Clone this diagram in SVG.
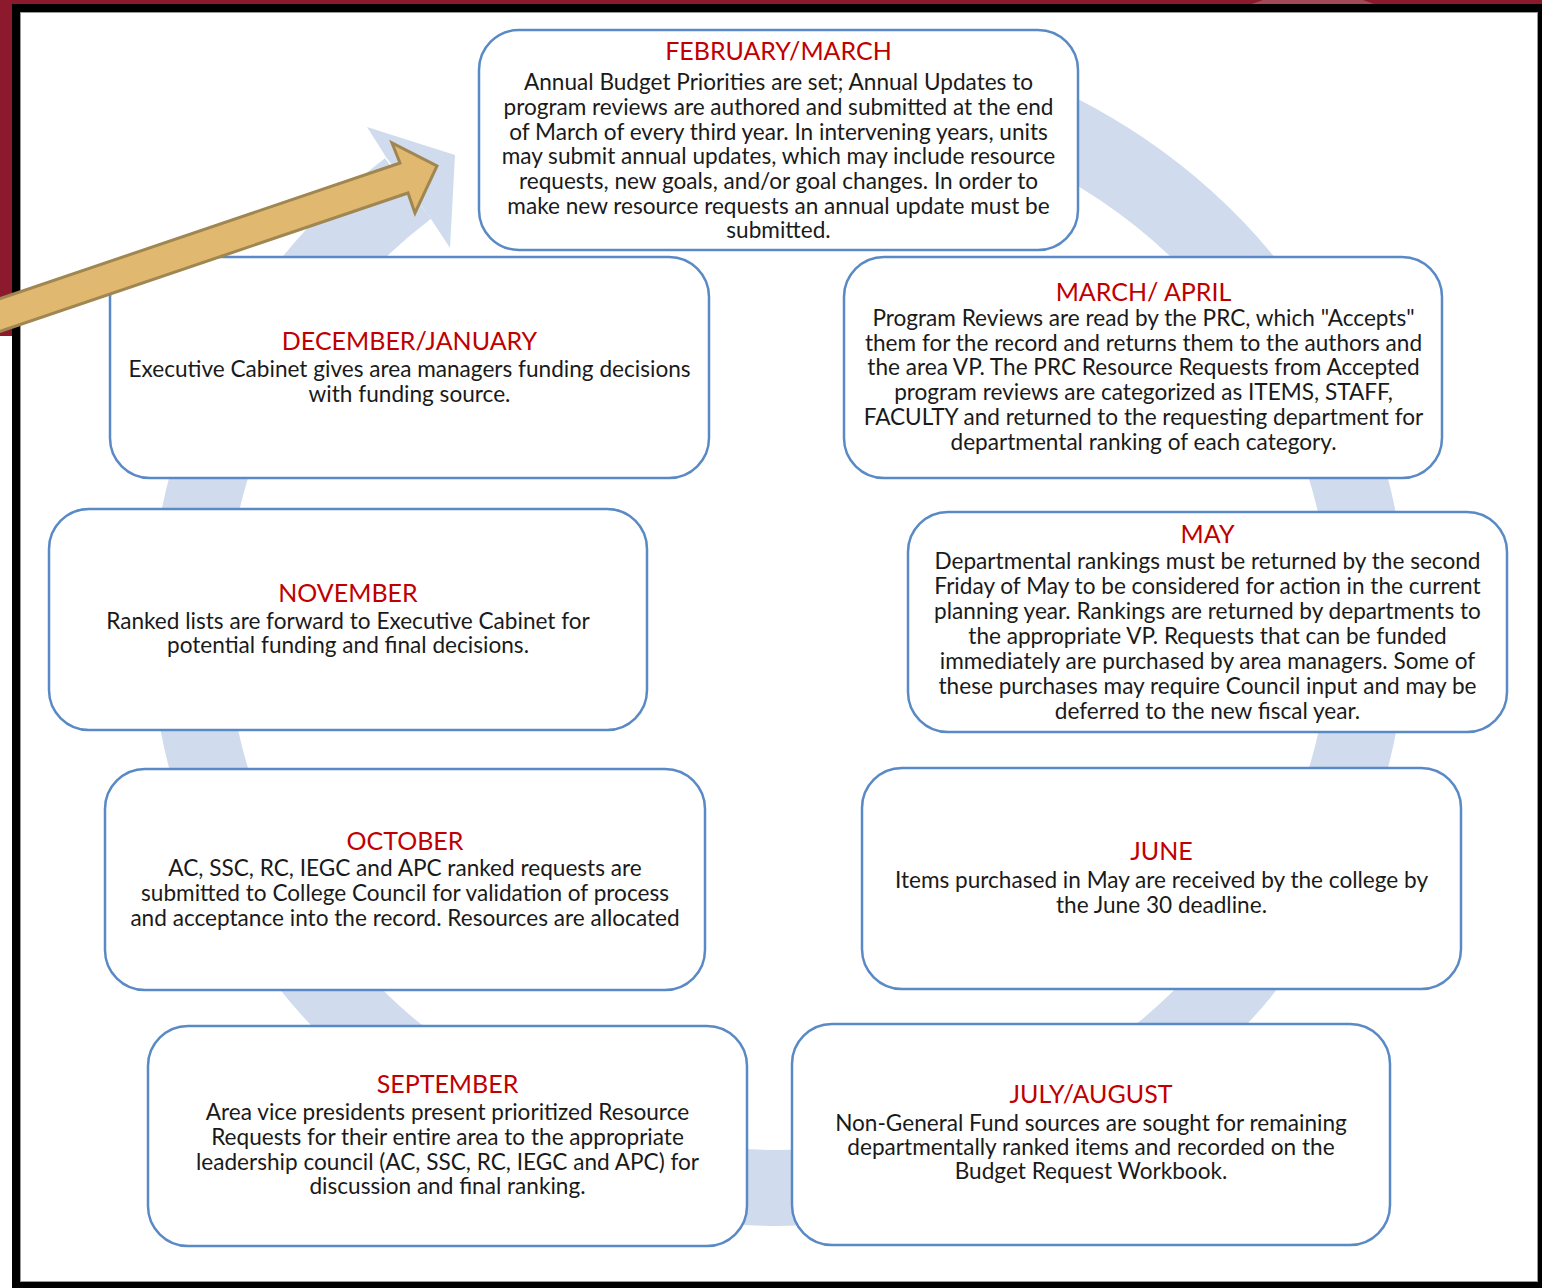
<svg xmlns="http://www.w3.org/2000/svg" width="1542" height="1288" viewBox="0 0 1542 1288">
<style>
.box{fill:#fff;stroke:#5A8AC6;stroke-width:2.5}
.t{font-family:Lato,"Open Sans","Liberation Sans",sans-serif;font-size:22.6px;fill:#1a1a1a;text-anchor:middle}
.h{font-size:25px;fill:#C00000}
</style>
<rect x="0" y="0" width="1542" height="1288" fill="#fff"/>
<g id="frame">
<rect x="0" y="0" width="1542" height="5" fill="#8C1A2C"/>
<rect x="0" y="0" width="12" height="336" fill="#8C1A2C"/>
<polygon points="1263,0 1363,0 1374,4 1252,4" fill="#A24A59"/>
<rect x="12" y="4" width="1530" height="8" fill="#000"/>
<rect x="12" y="4" width="8" height="1284" fill="#000"/>
<rect x="12" y="1282" width="1530" height="6" fill="#000"/>
<rect x="1538" y="4" width="4" height="1284" fill="#000"/>
<rect x="20.5" y="12.5" width="1517" height="1269" fill="none" stroke="#999" stroke-width="1"/>
</g>
<g id="cycle-arrow">
<path d="M960.8,92.3 A590,557 0 0 1 1368.5,622 A590,566 0 0 1 778.5,1188 A590,566 0 0 1 188.5,622 A590,557 0 0 1 408,188.6" fill="none" stroke="#D0DCEE" stroke-width="76"/>
<polygon points="386,157 367,127 455,155 450,248 431,219" fill="#D0DCEE"/>
</g>
<g id="feb-march">
<rect class="box" x="479" y="30" width="599" height="220" rx="40"/>
<text class="t h" x="778.5" y="60">FEBRUARY/MARCH</text>
<text class="t" x="778.5" y="90">Annual Budget Priorities are set; Annual Updates to</text>
<text class="t" x="778.5" y="115">program reviews are authored and submitted at the end</text>
<text class="t" x="778.5" y="140">of March of every third year. In intervening years, units</text>
<text class="t" x="778.5" y="164">may submit annual updates, which may include resource</text>
<text class="t" x="778.5" y="189">requests, new goals, and/or goal changes. In order to</text>
<text class="t" x="778.5" y="214">make new resource requests an annual update must be</text>
<text class="t" x="778.5" y="238">submitted.</text>
</g>
<g id="dec-jan">
<rect class="box" x="110" y="257" width="599" height="221" rx="40"/>
<text class="t h" x="409.5" y="349.5">DECEMBER/JANUARY</text>
<text class="t" x="409.5" y="377">Executive Cabinet gives area managers funding decisions</text>
<text class="t" x="409.5" y="402">with funding source.</text>
</g>
<g id="march-april">
<rect class="box" x="844" y="257" width="598" height="221" rx="40"/>
<text class="t h" x="1143.5" y="301">MARCH/ APRIL</text>
<text class="t" x="1143.5" y="326">Program Reviews are read by the PRC, which &quot;Accepts&quot;</text>
<text class="t" x="1143.5" y="351">them for the record and returns them to the authors and</text>
<text class="t" x="1143.5" y="375">the area VP. The PRC Resource Requests from Accepted</text>
<text class="t" x="1143.5" y="400">program reviews are categorized as ITEMS, STAFF,</text>
<text class="t" x="1143.5" y="425">FACULTY and returned to the requesting department for</text>
<text class="t" x="1143.5" y="450">departmental ranking of each category.</text>
</g>
<g id="november">
<rect class="box" x="49" y="509" width="598" height="221" rx="40"/>
<text class="t h" x="348" y="602">NOVEMBER</text>
<text class="t" x="348" y="628.5">Ranked lists are forward to Executive Cabinet for</text>
<text class="t" x="348" y="653">potential funding and final decisions.</text>
</g>
<g id="may">
<rect class="box" x="908" y="512" width="599" height="220" rx="40"/>
<text class="t h" x="1207.5" y="542.5">MAY</text>
<text class="t" x="1207.5" y="568.5">Departmental rankings must be returned by the second</text>
<text class="t" x="1207.5" y="593.5">Friday of May to be considered for action in the current</text>
<text class="t" x="1207.5" y="618.5">planning year. Rankings are returned by departments to</text>
<text class="t" x="1207.5" y="643.5">the appropriate VP. Requests that can be funded</text>
<text class="t" x="1207.5" y="668.5">immediately are purchased by area managers. Some of</text>
<text class="t" x="1207.5" y="693.5">these purchases may require Council input and may be</text>
<text class="t" x="1207.5" y="719">deferred to the new fiscal year.</text>
</g>
<g id="october">
<rect class="box" x="105" y="769" width="600" height="221" rx="40"/>
<text class="t h" x="405" y="849.5">OCTOBER</text>
<text class="t" x="405" y="875.5">AC, SSC, RC, IEGC and APC ranked requests are</text>
<text class="t" x="405" y="901">submitted to College Council for validation of process</text>
<text class="t" x="405" y="926">and acceptance into the record. Resources are allocated</text>
</g>
<g id="june">
<rect class="box" x="862" y="768" width="599" height="221" rx="40"/>
<text class="t h" x="1161.5" y="860">JUNE</text>
<text class="t" x="1161.5" y="888">Items purchased in May are received by the college by</text>
<text class="t" x="1161.5" y="913">the June 30 deadline.</text>
</g>
<g id="september">
<rect class="box" x="148" y="1026" width="599" height="220" rx="40"/>
<text class="t h" x="447.5" y="1093">SEPTEMBER</text>
<text class="t" x="447.5" y="1120">Area vice presidents present prioritized Resource</text>
<text class="t" x="447.5" y="1145">Requests for their entire area to the appropriate</text>
<text class="t" x="447.5" y="1170">leadership council (AC, SSC, RC, IEGC and APC) for</text>
<text class="t" x="447.5" y="1194">discussion and final ranking.</text>
</g>
<g id="july-august">
<rect class="box" x="792" y="1024" width="598" height="221" rx="40"/>
<text class="t h" x="1091" y="1103">JULY/AUGUST</text>
<text class="t" x="1091" y="1131">Non-General Fund sources are sought for remaining</text>
<text class="t" x="1091" y="1155">departmentally ranked items and recorded on the</text>
<text class="t" x="1091" y="1179">Budget Request Workbook.</text>
</g>
<g id="pointer-arrow">
<polygon points="-10,302 400,163 392,143 437,166 415,213 408,193 -10,334.7" fill="#E0B870" stroke="#A08650" stroke-width="3" stroke-linejoin="miter"/>
</g>
</svg>
